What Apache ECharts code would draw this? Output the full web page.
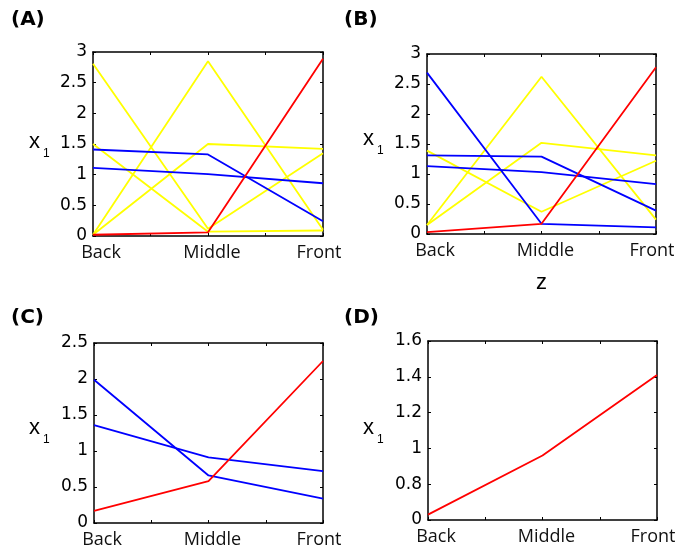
<!DOCTYPE html>
<html>
<head>
<meta charset="utf-8">
<script src="https://cdn.jsdelivr.net/npm/echarts@6/dist/echarts.min.js"></script>
<style>
  html, body { margin: 0; padding: 0; background: #fff; }
  #chart { width: 683px; height: 554px; }
</style>
</head>
<body>
<div id="chart"></div>
<script>
// Positions along z
const categories = ['Back', 'Middle', 'Front'];

// Panel (A)
const aYellow1 = [0.02, 2.85, 0.10];
const aYellow2 = [0.02, 1.50, 1.42];
const aYellow3 = [2.81, 0.12, 1.35];
const aYellow4 = [1.50, 0.07, 0.09];
const aBlue1 = [1.41, 1.33, 0.24];
const aBlue2 = [1.11, 1.01, 0.86];
const aRed = [0.02, 0.06, 2.89];

// Panel (B)
const bYellow1 = [0.15, 2.62, 0.24];
const bYellow2 = [0.15, 1.52, 1.31];
const bYellow3 = [1.39, 0.37, 1.22];
const bBlue1 = [2.69, 0.17, 0.11];
const bBlue2 = [1.31, 1.29, 0.39];
const bBlue3 = [1.13, 1.03, 0.83];
const bRed = [0.03, 0.17, 2.78];

// Panel (C)
const cBlue1 = [1.99, 0.66, 0.34];
const cBlue2 = [1.36, 0.91, 0.72];
const cRed = [0.17, 0.58, 2.25];

// Panel (D)
const dRed = [0.63, 0.96, 1.41];
const dTickLabels = ['0', '0.8', '1', '1.2', '1.4', '1.6'];

const YELLOW = '#ffff00', BLUE = '#0000ff', RED = '#ff0000';

const panels = [
  { title: '(A)', tx: 11, ty: 10, grid: { left: 93, top: 52, width: 230, height: 184 },
    yMin: 0, yMax: 3, yInt: 0.5, xLab: [29, 145],
    lines: [[aYellow1, YELLOW], [aYellow2, YELLOW], [aYellow3, YELLOW], [aYellow4, YELLOW],
            [aBlue1, BLUE], [aBlue2, BLUE], [aRed, RED]] },
  { title: '(B)', tx: 344, ty: 10, grid: { left: 427, top: 54, width: 229, height: 180 },
    yMin: 0, yMax: 3, yInt: 0.5, xLab: [363, 142], zName: 'z',
    lines: [[bYellow1, YELLOW], [bYellow2, YELLOW], [bYellow3, YELLOW],
            [bBlue1, BLUE], [bBlue2, BLUE], [bBlue3, BLUE], [bRed, RED]] },
  { title: '(C)', tx: 11, ty: 308, grid: { left: 94, top: 343, width: 229, height: 180 },
    yMin: 0, yMax: 2.5, yInt: 0.5, xLab: [29, 431],
    lines: [[cBlue1, BLUE], [cBlue2, BLUE], [cRed, RED]] },
  { title: '(D)', tx: 344, ty: 308, grid: { left: 428, top: 341, width: 229, height: 179 },
    yMin: 0.6, yMax: 1.6, yInt: 0.2, xLab: [363, 431], yLabels: dTickLabels,
    lines: [[dRed, RED]] }
];

const tickStyle = { show: true, inside: true, length: 3, lineStyle: { color: '#000', width: 1 } };
const lineAxis = { show: true, onZero: false, lineStyle: { color: '#000', width: 1.5 } };
const catFont = { fontFamily: 'Open Sans', fontSize: 18, color: '#111' };

const option = {
  animation: false,
  backgroundColor: '#fff',
  title: [], grid: [], xAxis: [], yAxis: [], series: [], graphic: []
};

panels.forEach((p, i) => {
  option.title.push({
    text: p.title, left: p.tx, top: p.ty, padding: 0,
    textStyle: { fontFamily: 'DejaVu Sans', fontWeight: 'bold', fontSize: 20, color: '#000' }
  });
  option.grid.push(Object.assign({ show: false }, p.grid));

  // bottom axis with category names, plus a bare top axis for the box
  option.xAxis.push({
    type: 'value', gridIndex: i, position: 'bottom', min: 0, max: 2, interval: 0.5,
    axisLine: lineAxis, axisTick: tickStyle, splitLine: { show: false },
    axisLabel: {
      margin: 8, showMinLabel: true, showMaxLabel: true,
      formatter: v => (Number.isInteger(v) ? '{c' + v + '|' + categories[v] + '}' : ''),
      rich: {
        c0: Object.assign({ padding: [0, 0, 0, 16] }, catFont),
        c1: Object.assign({ padding: [0, 0, 0, 8] }, catFont),
        c2: Object.assign({ padding: [0, 8, 0, 0] }, catFont)
      }
    },
    name: p.zName || '', nameLocation: 'middle', nameGap: 38,
    nameTextStyle: { fontFamily: 'Liberation Sans', fontSize: 22, color: '#000' }
  });
  option.xAxis.push({
    type: 'value', gridIndex: i, position: 'top', min: 0, max: 2, interval: 0.5,
    axisLine: lineAxis, axisTick: tickStyle, axisLabel: { show: false }, splitLine: { show: false }
  });

  const labels = p.yLabels;
  option.yAxis.push({
    type: 'value', gridIndex: i, position: 'left', min: p.yMin, max: p.yMax, interval: p.yInt,
    axisLine: lineAxis, axisTick: tickStyle, splitLine: { show: false },
    axisLabel: {
      margin: 6, color: '#000', fontFamily: 'DejaVu Sans', fontSize: 17,
      showMinLabel: true, showMaxLabel: true,
      formatter: labels
        ? v => labels[Math.round((v - p.yMin) / p.yInt)]
        : v => String(+v.toFixed(2))
    }
  });
  option.yAxis.push({
    type: 'value', gridIndex: i, position: 'right', min: p.yMin, max: p.yMax, interval: p.yInt,
    axisLine: lineAxis, axisTick: tickStyle, axisLabel: { show: false }, splitLine: { show: false }
  });

  p.lines.forEach(([vals, color]) => {
    option.series.push({
      type: 'line', xAxisIndex: 2 * i, yAxisIndex: 2 * i,
      data: vals.map((v, k) => [k, v]),
      symbol: 'none', clip: false,
      lineStyle: { color, width: 1.8 }
    });
  });

  // y-axis title x with subscript 1
  option.graphic.push({
    type: 'text', left: p.xLab[0], top: p.xLab[1] - 14,
    style: { text: 'x', font: '22px "Liberation Sans"', fill: '#000' }
  });
  option.graphic.push({
    type: 'text', left: p.xLab[0] + 14, top: p.xLab[1] + 3,
    style: { text: '1', font: '12px "Liberation Sans"', fill: '#000' }
  });
});

const chart = echarts.init(document.getElementById('chart'), null, { renderer: 'canvas' });
chart.setOption(option);
</script>
</body>
</html>
